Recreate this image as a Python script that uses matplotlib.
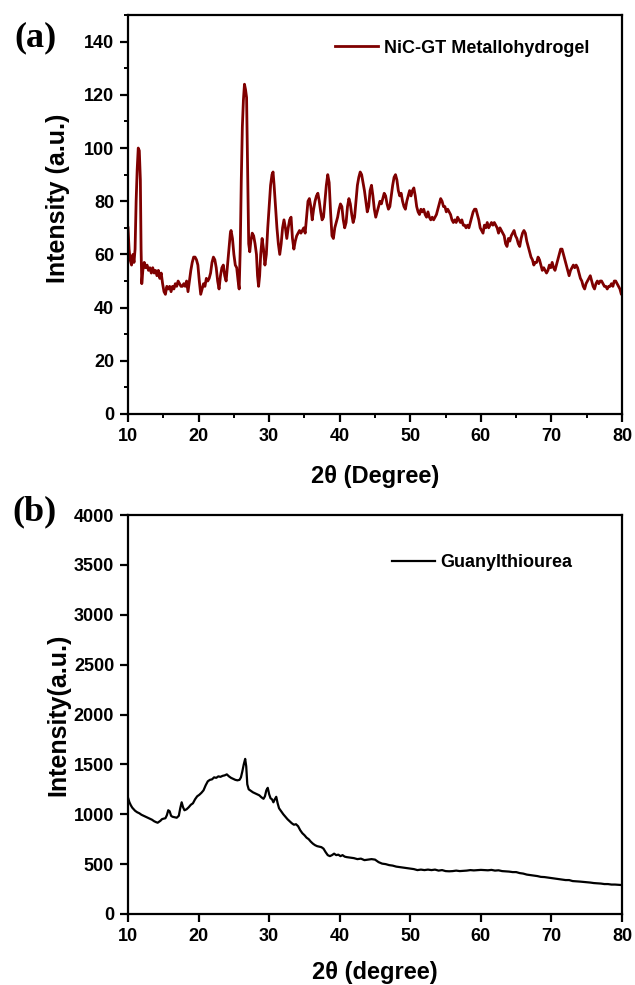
import matplotlib
matplotlib.use("Agg")
import matplotlib.pyplot as plt
from matplotlib.ticker import MultipleLocator

# XRD pattern of the NiC-GT metallohydrogel
gel_2theta = [
    10.0, 10.15, 10.3, 10.5, 10.7, 10.85, 11.0, 11.15, 11.3, 11.45, 11.6, 11.75, 11.85, 11.95,
    12.1, 12.3, 12.5, 12.7, 12.9, 13.1, 13.3, 13.5, 13.7, 13.9, 14.1, 14.3, 14.5, 14.7, 14.9,
    15.1, 15.3, 15.5, 15.7, 15.9, 16.1, 16.3, 16.5, 16.7, 16.9, 17.1, 17.3, 17.5, 17.7, 17.9,
    18.1, 18.3, 18.5, 18.7, 18.9, 19.1, 19.3, 19.5, 19.7, 19.9, 20.1, 20.3, 20.5, 20.7, 20.9,
    21.1, 21.3, 21.5, 21.7, 21.9, 22.1, 22.3, 22.5, 22.7, 22.9, 23.1, 23.3, 23.5, 23.7, 23.9,
    24.1, 24.3, 24.5, 24.6, 24.8, 25.0, 25.2, 25.4, 25.6, 25.75, 25.9, 26.05, 26.2, 26.35, 26.5,
    26.65, 26.8, 26.9, 27.0, 27.1, 27.25, 27.4, 27.6, 27.8, 28.0, 28.2, 28.35, 28.5, 28.65, 28.8,
    29.0, 29.2, 29.4, 29.6, 29.8, 30.0, 30.2, 30.4, 30.55, 30.7, 30.9, 31.1, 31.3, 31.5, 31.7,
    31.9, 32.1, 32.3, 32.5, 32.7, 32.9, 33.1, 33.3, 33.5, 33.7, 33.9, 34.1, 34.3, 34.5, 34.7,
    34.9, 35.1, 35.3, 35.5, 35.7, 35.9, 36.1, 36.3, 36.5, 36.7, 36.9, 37.1, 37.3, 37.5, 37.7,
    37.9, 38.1, 38.3, 38.5, 38.7, 38.9, 39.1, 39.3, 39.5, 39.7, 39.9, 40.1, 40.3, 40.5, 40.7,
    40.9, 41.1, 41.3, 41.5, 41.7, 41.9, 42.1, 42.3, 42.5, 42.7, 42.9, 43.1, 43.3, 43.5, 43.7,
    43.9, 44.1, 44.3, 44.5, 44.7, 44.9, 45.1, 45.3, 45.5, 45.7, 45.9, 46.1, 46.3, 46.5, 46.7,
    46.9, 47.1, 47.3, 47.5, 47.7, 47.9, 48.1, 48.3, 48.5, 48.7, 48.9, 49.1, 49.3, 49.5, 49.7,
    49.9, 50.1, 50.3, 50.5, 50.7, 50.9, 51.1, 51.3, 51.5, 51.7, 51.9, 52.1, 52.3, 52.5, 52.7,
    52.9, 53.1, 53.3, 53.5, 53.7, 53.9, 54.1, 54.3, 54.5, 54.7, 54.9, 55.1, 55.3, 55.5, 55.7,
    55.9, 56.1, 56.3, 56.5, 56.7, 56.9, 57.1, 57.3, 57.5, 57.7, 57.9, 58.1, 58.3, 58.5, 58.7,
    58.9, 59.1, 59.3, 59.5, 59.7, 59.9, 60.1, 60.3, 60.5, 60.7, 60.9, 61.1, 61.3, 61.5, 61.7,
    61.9, 62.1, 62.3, 62.5, 62.7, 62.9, 63.1, 63.3, 63.5, 63.7, 63.9, 64.1, 64.3, 64.5, 64.7,
    64.9, 65.1, 65.3, 65.5, 65.7, 65.9, 66.1, 66.3, 66.5, 66.7, 66.9, 67.1, 67.3, 67.5, 67.7,
    67.9, 68.1, 68.3, 68.5, 68.7, 68.9, 69.1, 69.3, 69.5, 69.7, 69.9, 70.1, 70.3, 70.5, 70.7,
    70.9, 71.1, 71.3, 71.5, 71.7, 71.9, 72.1, 72.3, 72.5, 72.7, 72.9, 73.1, 73.3, 73.5, 73.7,
    73.9, 74.1, 74.3, 74.5, 74.7, 74.9, 75.1, 75.3, 75.5, 75.7, 75.9, 76.1, 76.3, 76.5, 76.7,
    76.9, 77.1, 77.3, 77.5, 77.7, 77.9, 78.1, 78.3, 78.5, 78.7, 78.9, 79.1, 79.3, 79.5, 79.7,
    79.9, 80.0,
]
gel_intensity = [
    70, 62, 58, 56, 60, 57, 62, 80, 92, 100, 99, 88, 62, 49,
    54, 57, 55, 56, 54, 55, 53, 55, 53, 54, 52, 54, 51, 53, 49,
    46, 45, 48, 47, 48, 46, 48, 47, 49, 48, 50, 49, 48, 48, 49,
    48, 50, 46, 50, 54, 57, 59, 59, 58, 56, 50, 45, 47, 49, 48,
    51, 50, 51, 53, 57, 59, 58, 55, 50, 47, 52, 55, 56, 52, 50,
    56, 62, 68, 69, 66, 60, 56, 55, 50, 47, 62, 88, 108, 118, 124,
    122, 119, 100, 80, 64, 61, 65, 68, 67, 64, 60, 52, 48, 52, 60,
    66, 62, 56, 60, 70, 78, 86, 90, 91, 86, 78, 70, 64, 60, 64,
    70, 73, 70, 66, 70, 73, 74, 66, 62, 65, 67, 68, 69, 68, 69,
    70, 68, 74, 80, 81, 78, 73, 77, 80, 82, 83, 80, 76, 73, 74,
    80, 86, 90, 87, 76, 67, 66, 70, 72, 74, 77, 79, 78, 73, 70,
    72, 78, 81, 79, 75, 72, 74, 80, 86, 89, 91, 90, 87, 84, 80,
    76, 78, 84, 86, 82, 77, 74, 76, 78, 80, 79, 81, 83, 82, 79,
    77, 78, 82, 86, 89, 90, 88, 84, 82, 83, 80, 78, 77, 80, 82,
    84, 82, 84, 85, 82, 78, 76, 75, 77, 76, 77, 75, 74, 76, 74,
    73, 74, 73, 74, 75, 77, 79, 81, 80, 78, 78, 76, 77, 76, 75,
    73, 72, 73, 72, 74, 73, 72, 73, 71, 71, 70, 71, 70, 72, 74,
    76, 77, 77, 75, 73, 70, 69, 68, 71, 70, 72, 70, 71, 72, 71,
    72, 71, 70, 68, 70, 69, 68, 67, 64, 63, 66, 65, 67, 68, 69,
    67, 66, 64, 63, 66, 68, 69, 68, 65, 63, 61, 59, 58, 56, 57,
    57, 59, 58, 56, 54, 55, 54, 53, 54, 56, 55, 57, 55, 54, 56,
    58, 60, 62, 62, 60, 58, 56, 54, 52, 54, 55, 56, 55, 56, 55,
    53, 51, 50, 48, 47, 49, 50, 51, 52, 50, 48, 47, 49, 50, 49,
    50, 50, 49, 48, 48, 47, 48, 48, 49, 48, 50, 50, 49, 48, 47,
    45, 45,
]

# XRD pattern of guanylthiourea
gt_2theta = [
    10.0, 10.2, 10.4, 10.6, 10.8, 11.0, 11.3, 11.6, 11.9, 12.2, 12.5, 12.8, 13.1, 13.4, 13.7,
    14.0, 14.2, 14.4, 14.6, 14.8, 15.0, 15.3, 15.5, 15.7, 15.9, 16.1, 16.3, 16.6, 16.9, 17.2,
    17.4, 17.6, 17.8, 18.0, 18.3, 18.6, 18.9, 19.2, 19.5, 19.8, 20.1, 20.4, 20.7, 21.0, 21.3,
    21.6, 21.9, 22.2, 22.5, 22.8, 23.1, 23.4, 23.7, 24.0, 24.3, 24.6, 24.9, 25.2, 25.5, 25.8,
    26.0, 26.2, 26.4, 26.6, 26.75, 26.9, 27.1, 27.4, 27.7, 28.0, 28.3, 28.6, 28.9, 29.2, 29.4,
    29.6, 29.8, 30.0, 30.2, 30.4, 30.6, 30.8, 31.0, 31.2, 31.4, 31.7, 32.0, 32.3, 32.6, 32.9,
    33.2, 33.5, 33.8, 34.1, 34.4, 34.7, 35.0, 35.3, 35.6, 35.9, 36.2, 36.5, 36.8, 37.1, 37.4,
    37.7, 38.0, 38.3, 38.6, 38.9, 39.2, 39.5, 39.8, 40.1, 40.4, 40.7, 41.0, 41.5, 42.0, 42.5,
    43.0, 43.5, 44.0, 44.5, 45.0, 45.5, 46.0, 46.5, 47.0, 47.5, 48.0, 48.5, 49.0, 49.5, 50.0,
    50.5, 51.0, 51.5, 52.0, 52.5, 53.0, 53.5, 54.0, 54.5, 55.0, 55.5, 56.0, 56.5, 57.0, 57.5,
    58.0, 58.5, 59.0, 59.5, 60.0, 60.5, 61.0, 61.5, 62.0, 62.5, 63.0, 63.5, 64.0, 64.5, 65.0,
    65.5, 66.0, 66.5, 67.0, 67.5, 68.0, 68.5, 69.0, 69.5, 70.0, 70.5, 71.0, 71.5, 72.0, 72.5,
    73.0, 73.5, 74.0, 74.5, 75.0, 75.5, 76.0, 76.5, 77.0, 77.5, 78.0, 78.5, 79.0, 79.5, 80.0,
]
gt_intensity = [
    1166, 1120, 1090, 1066, 1050, 1035, 1020, 1010, 995, 985, 975, 965, 955, 945, 930,
    920, 915, 925, 935, 950, 955, 960, 990, 1040, 1030, 985, 975, 970, 965, 985,
    1060, 1120, 1070, 1040, 1050, 1070, 1095, 1110, 1150, 1180, 1195, 1215, 1240, 1290, 1330,
    1345, 1350, 1370, 1365, 1380, 1375, 1385, 1390, 1400, 1380, 1365, 1355, 1345, 1340, 1345,
    1370, 1430, 1500, 1555, 1480, 1300, 1250, 1235, 1220, 1210, 1200, 1190, 1170, 1155, 1180,
    1240, 1265, 1200, 1160, 1150, 1120, 1150, 1175, 1110, 1060, 1030, 1000, 975, 950, 930,
    910, 895, 900, 880, 840, 810, 790, 765, 750, 725, 705, 690, 680, 675, 670,
    655, 620, 590, 580, 590, 605, 590, 595, 580, 590, 575, 570, 565, 560, 550,
    555, 540, 545, 550, 545, 520, 505, 500, 490, 485, 475, 470, 465, 460, 455,
    450, 440, 445, 440, 445, 440, 445, 435, 440, 430, 428, 430, 435, 430, 432,
    435, 440, 437, 440, 442, 440, 438, 442, 435, 438, 430, 428, 425, 420, 420,
    410, 405, 395, 390, 385, 380, 372, 370, 365, 360, 355, 350, 345, 340, 340,
    330, 328, 325, 322, 318, 315, 310, 308, 305, 300, 300, 295, 295, 292, 290,
]

x_ticks = [10, 20, 30, 40, 50, 60, 70, 80]

SANS = ["Liberation Sans", "DejaVu Sans"]
SERIF = ["Liberation Serif", "DejaVu Serif"]
plt.rcParams["font.family"] = SANS
plt.rcParams["font.weight"] = "bold"
plt.rcParams["axes.linewidth"] = 1.6

fig = plt.figure(figsize=(6.35, 9.85), dpi=100)
ax_a = fig.add_axes([0.2016, 0.5797, 0.778, 0.405])
ax_b = fig.add_axes([0.2016, 0.0721, 0.778, 0.405])


def style_axis(ax):
    ax.tick_params(axis="both", which="major", direction="out", length=6, width=1.6,
                   labelsize=13, pad=4)
    ax.tick_params(axis="both", which="minor", direction="out", length=3, width=1.4)
    ax.tick_params(top=False, right=False)
    for lab in ax.get_xticklabels() + ax.get_yticklabels():
        lab.set_fontweight("bold")


# (a) metallohydrogel
ax_a.plot(gel_2theta, gel_intensity, color="#7f0000", lw=2.0,
          label="NiC-GT Metallohydrogel")
ax_a.set_xlim(10, 80)
ax_a.set_ylim(0, 150)
ax_a.set_xticks(x_ticks)
ax_a.xaxis.set_minor_locator(MultipleLocator(5))
ax_a.yaxis.set_minor_locator(MultipleLocator(10))
ax_a.set_yticks(list(range(0, 141, 20)))
style_axis(ax_a)
ax_a.set_xlabel("2\u03b8 (Degree)", fontsize=17, fontweight="bold")
ax_a.set_ylabel("Intensity (a.u.)", fontsize=18, fontweight="bold")
ax_a.xaxis.set_label_coords(0.5, -0.128)
ax_a.yaxis.set_label_coords(-0.117, 0.54)
ax_a.legend(loc="center left", bbox_to_anchor=(0.419, 0.917), frameon=False,
            borderpad=0, borderaxespad=0, handlelength=2.4, handletextpad=0.3,
            prop={"size": 13, "weight": "bold"})

# (b) guanylthiourea
ax_b.plot(gt_2theta, gt_intensity, color="black", lw=1.6, label="Guanylthiourea")
ax_b.set_xlim(10, 80)
ax_b.set_ylim(0, 4000)
ax_b.set_xticks(x_ticks)
ax_b.yaxis.set_major_locator(MultipleLocator(500))
style_axis(ax_b)
ax_b.set_xlabel("2\u03b8 (degree)", fontsize=17, fontweight="bold")
ax_b.set_ylabel("Intensity(a.u.)", fontsize=18, fontweight="bold")
ax_b.xaxis.set_label_coords(0.5, -0.118)
ax_b.yaxis.set_label_coords(-0.117, 0.5)
ax_b.legend(loc="center left", bbox_to_anchor=(0.534, 0.88), frameon=False,
            borderpad=0, borderaxespad=0, handlelength=2.4, handletextpad=0.3,
            prop={"size": 13, "weight": "bold"})

fig.text(35 / 635, 1 - 38 / 985, "(a)", family=SERIF, fontsize=26, fontweight="bold",
         ha="center", va="center")
fig.text(35 / 635, 1 - 512 / 985, "(b)", family=SERIF, fontsize=26, fontweight="bold",
         ha="center", va="center")

fig.savefig("out.png", dpi=100)
